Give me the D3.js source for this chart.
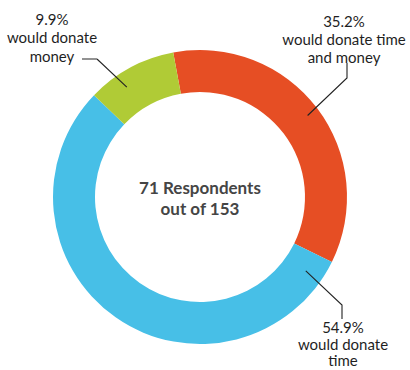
<!DOCTYPE html>
<html>
<head>
<meta charset="utf-8">
<script src="https://cdn.jsdelivr.net/npm/d3@7/dist/d3.min.js"></script>
<style>
  html, body { margin: 0; padding: 0; background: #fff; }
  svg { display: block; }
  .lbl { font-family: Lato, "Open Sans", sans-serif; font-size: 15px; fill: #1f1f1f; }
  .ctr { font-family: Lato, "Open Sans", sans-serif; font-size: 17px; font-weight: 700; fill: #454545; }
</style>
</head>
<body>
<svg id="chart" width="410" height="370"></svg>
<script>
// Survey answers among the respondents
const categories = ["would donate time and money", "would donate time", "would donate money"];
const values = [35.2, 54.9, 9.9];
const colors = ["#E64E24", "#47BFE7", "#B0CB36"];
const labelLines = [
  ["35.2%", "would donate time", "and money"],
  ["54.9%", "would donate", "time"],
  ["9.9%", "would donate", "money"]
];
const centerLines = ["71 Respondents", "out of 153"];

const W = 410, H = 370;
const cx = 200, cy = 197;
const outerR = 147, innerR = 105;
const startDeg = -10.5;

const svg = d3.select("#chart");
const g = svg.append("g").attr("transform", `translate(${cx},${cy})`);

const rad = d => d * Math.PI / 180;
const pie = d3.pie().sort(null)
  .startAngle(rad(startDeg))
  .endAngle(rad(startDeg + 360));
const arcs = pie(values);

const arc = d3.arc().innerRadius(innerR).outerRadius(outerR);

g.selectAll("path.slice")
  .data(arcs)
  .join("path")
  .attr("class", "slice")
  .attr("d", arc)
  .attr("fill", (d, i) => colors[i]);

// Callout layout: where the leader starts inside each slice, its bends, and the text block
const callouts = [
  { t: 0.50, r: 135, bends: [[347, 78], [347, 63]], text: [344, 27], step: 18, gray: false },
  { t: 0.044, r: 129, bends: [[342, 305], [342, 319]], text: [343, 333], step: 16.5, gray: false },
  { t: 0.35, r: 132, bends: [[97, 59]], tail: [82, 59], text: [52, 25], step: 18.3, gray: true }
];

arcs.forEach((a, i) => {
  const c = callouts[i];
  const ang = a.startAngle + c.t * (a.endAngle - a.startAngle);
  const p0 = [cx + c.r * Math.sin(ang), cy - c.r * Math.cos(ang)];
  const pts = [p0, ...c.bends];
  svg.append("path")
    .attr("d", d3.line()(pts))
    .attr("fill", "none")
    .attr("stroke", "#222")
    .attr("stroke-width", 1.1);
  if (c.tail) {
    svg.append("path")
      .attr("d", d3.line()([c.bends[c.bends.length - 1], c.tail]))
      .attr("stroke", "#777")
      .attr("stroke-width", 1.6);
  }
  const t = svg.append("text").attr("class", "lbl")
    .attr("text-anchor", "middle");
  labelLines[i].forEach((ln, k) => {
    t.append("tspan")
      .attr("x", c.text[0])
      .attr("y", c.text[1] + k * c.step)
      .text(ln);
  });
});

const ct = svg.append("text").attr("class", "ctr").attr("text-anchor", "middle");
centerLines.forEach((ln, k) => {
  ct.append("tspan").attr("x", cx).attr("y", 194 + k * 21).text(ln);
});
</script>
</body>
</html>
